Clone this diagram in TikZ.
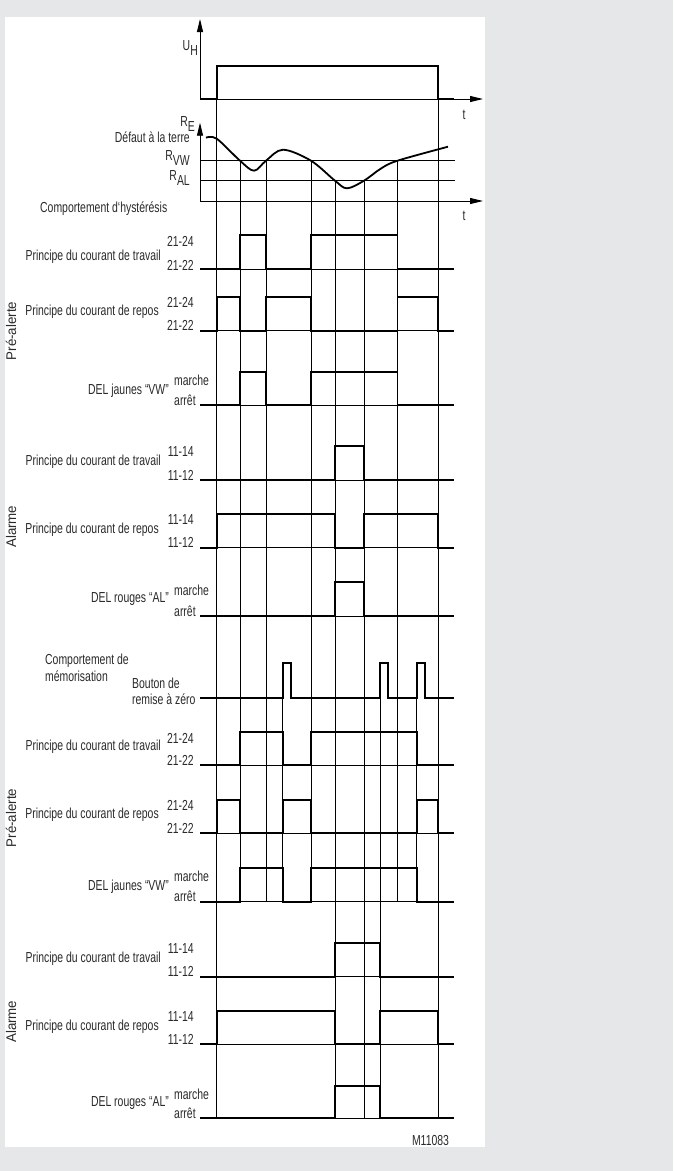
\documentclass[tikz,border=0pt]{standalone}
\usepackage{fontspec}
\setmainfont{Liberation Sans}[FakeStretch=0.72]
\newfontfamily\sidefont{Liberation Sans}[FakeStretch=0.95]
\usetikzlibrary{arrows.meta}
\definecolor{panelgrey}{HTML}{E6E7E9}
\definecolor{inkgrey}{HTML}{2A2A2A}
\tikzset{
  sig/.style={line width=1.8pt, line join=miter},
  grid/.style={line width=0.75pt},
  axis/.style={line width=0.9pt, -{Triangle[length=13pt,width=6pt]}},
  lbl/.style={inner sep=0pt, text=inkgrey, font=\fontsize{14.5}{16.5}\selectfont},
  lvl/.style={lbl, anchor=east},
  side/.style={inner sep=0pt, text=inkgrey, rotate=90, font=\sidefont\fontsize{14}{16}\selectfont},
}
\newcommand{\lowsub}[1]{\raisebox{-5pt}{#1}}
\begin{document}
\begin{tikzpicture}[x=1pt,y=-1pt]
\useasboundingbox[fill=panelgrey] (0,0) rectangle (673,1171);
\fill[white] (5,17) rectangle (485,1147);
% switching times
\def\ta{216.7}\def\tb{240}\def\tc{266}\def\td{311}
\def\te{335}\def\tf{364}\def\tg{397.5}\def\th{438}
\def\ra{282.7}\def\rb{380}\def\rc{416.7}
% vertical time marks
\draw[grid] (\ta,99) -- (\ta,1118.3);
\draw[grid] (\th,99) -- (\th,1118.3);
\draw[grid] (\tb,160.7) -- (\tb,901.7);
\draw[grid] (\tc,160.7) -- (\tc,901.7);
\draw[grid] (\td,160.7) -- (\td,901.7);
\draw[grid] (\tg,160.7) -- (\tg,901.7);
\draw[grid] (\te,180.7) -- (\te,1118.3);
\draw[grid] (\tf,180.7) -- (\tf,1118.3);
\draw[grid] (\ra,663.3) -- (\ra,901.7);
\draw[grid] (\rc,663.3) -- (\rc,901.7);
\draw[grid] (\rb,663.3) -- (\rb,1118.3);

% supply voltage
\coordinate (uh0) at (200,99);
\draw[axis] (uh0) -- (200,19);
\draw[axis] (uh0) -- (483,99);
\draw[sig] (uh0) -| (\ta,66) -| (\th,99) -- (454,99);
\node[lbl, anchor=east] (uh) at (198,48) {U\lowsub{H}};
\node[lbl] (t1) at (464,115) {t};

% earth fault resistance
\coordinate (re0) at (200,201);
\draw[axis] (re0) -- (200,122.7);
\draw[axis] (re0) -- (483,201);
\draw[grid] (200,160.7) -- (455,160.7);
\draw[grid] (200,180.7) -- (455,180.7);
\draw[sig] plot[smooth, tension=0.55] coordinates {(206,137.7) (216.7,138.7) (240,160.7) (254,170.7) (266,160.7) (283,149.7) (311,160.7) (335,180.7) (347,188.3) (364,180.7) (381,168.5) (397.5,160.7) (448,146.7)};
\node[lbl, anchor=east] (re) at (195,124) {R\lowsub{E}};
\node[lbl, anchor=east] (fault) at (190,137.5) {Défaut à la terre};
\node[lbl, anchor=east] (rvw) at (190,158) {R\lowsub{VW}};
\node[lbl, anchor=east] (ral) at (190,178) {R\lowsub{AL}};
\node[lbl] (t2) at (464,216) {t};
\node[lbl, anchor=west] (hyst) at (40,209) {Comportement d‘hystérésis};

% hysteresis: pre-alarm
\draw[grid] (200,269.3) -- (454,269.3);
\draw[sig] (200,269.3) -| (\tb,235) -| (\tc,269.3) -| (\td,235) -| (\tg,269.3) -- (454,269.3);
\node[lvl] (hpw) at (161,256.7) {Principe du courant de travail};
\node[lvl] (hpw1) at (194,241.5) {21-24};
\node[lvl] (hpw2) at (194,265) {21-22};

\draw[grid] (200,330.7) -- (454,330.7);
\draw[sig] (200,330.7) -| (\ta,296.7) -| (\tb,330.7) -| (\tc,296.7) -| (\td,330.7) -| (\tg,296.7) -| (\th,330.7) -- (454,330.7);
\node[lvl] (hpr) at (159,312) {Principe du courant de repos};
\node[lvl] (hpr1) at (194,302) {21-24};
\node[lvl] (hpr2) at (194,325.7) {21-22};

\draw[grid] (200,405) -- (454,405);
\draw[sig] (200,405) -| (\tb,371.7) -| (\tc,405) -| (\td,371.7) -| (\tg,405) -- (454,405);
\node[lvl] (hvw) at (169,390.7) {DEL jaunes “VW”};
\node[lbl, anchor=west] (hvw1) at (174,380) {marche};
\node[lbl, anchor=west] (hvw2) at (174,400) {arrêt};

\node[side] (hpre) at (11,331) {Pré-alerte};

% hysteresis: alarm
\draw[grid] (200,480) -- (454,480);
\draw[sig] (200,480) -| (\te,446) -| (\tf,480) -- (454,480);
\node[lvl] (haw) at (161,461.7) {Principe du courant de travail};
\node[lvl] (haw1) at (194,452) {11-14};
\node[lvl] (haw2) at (194,475) {11-12};

\draw[grid] (200,547.7) -- (454,547.7);
\draw[sig] (200,547.7) -| (\ta,514.3) -| (\te,547.7) -| (\tf,514.3) -| (\th,547.7) -- (454,547.7);
\node[lvl] (har) at (159,530) {Principe du courant de repos};
\node[lvl] (har1) at (194,519.5) {11-14};
\node[lvl] (har2) at (194,542.7) {11-12};

\draw[grid] (200,616) -- (454,616);
\draw[sig] (200,616) -| (\te,582) -| (\tf,616) -- (454,616);
\node[lvl] (hal) at (169,599) {DEL rouges “AL”};
\node[lbl, anchor=west] (hal1) at (174,590) {marche};
\node[lbl, anchor=west] (hal2) at (174,611) {arrêt};

\node[side] (halm) at (11,526.7) {Alarme};

% latching behaviour
\node[lbl, anchor=west, align=left] (mem) at (45,668) {Comportement de\\mémorisation};
\draw[sig] (200,697.7) -| (\ra,663.3) -| (\ra+8,697.7) -| (\rb,663.3) -| (\rb+8,697.7) -| (\rc,663.3) -| (\rc+8,697.7) -- (454,697.7);
\node[lbl, anchor=west, align=left] (reset) at (132,691.5) {Bouton de\\remise à zéro};

% latching: pre-alarm
\draw[grid] (200,765.3) -- (454,765.3);
\draw[sig] (200,765.3) -| (\tb,732.3) -| (\ra,765.3) -| (\td,732.3) -| (\rc,765.3) -- (454,765.3);
\node[lvl] (mpw) at (161,746.7) {Principe du courant de travail};
\node[lvl] (mpw1) at (194,738) {21-24};
\node[lvl] (mpw2) at (194,760.3) {21-22};

\draw[grid] (200,833.3) -- (454,833.3);
\draw[sig] (200,833.3) -| (\ta,800) -| (\tb,833.3) -| (\ra,800) -| (\td,833.3) -| (\rc,800) -| (\th,833.3) -- (454,833.3);
\node[lvl] (mpr) at (159,815) {Principe du courant de repos};
\node[lvl] (mpr1) at (194,805.5) {21-24};
\node[lvl] (mpr2) at (194,828.3) {21-22};

\draw[grid] (200,901.7) -- (454,901.7);
\draw[sig] (200,901.7) -| (\tb,867.7) -| (\ra,901.7) -| (\td,867.7) -| (\rc,901.7) -- (454,901.7);
\node[lvl] (mvw) at (169,886.7) {DEL jaunes “VW”};
\node[lbl, anchor=west] (mvw1) at (174,876) {marche};
\node[lbl, anchor=west] (mvw2) at (174,896.7) {arrêt};

\node[side] (mpre) at (11,818) {Pré-alerte};

% latching: alarm
\draw[grid] (200,976.7) -- (454,976.7);
\draw[sig] (200,976.7) -| (\te,942.7) -| (\rb,976.7) -- (454,976.7);
\node[lvl] (maw) at (161,958.3) {Principe du courant de travail};
\node[lvl] (maw1) at (194,948.5) {11-14};
\node[lvl] (maw2) at (194,971.7) {11-12};

\draw[grid] (200,1044) -- (454,1044);
\draw[sig] (200,1044) -| (\ta,1010.7) -| (\te,1044) -| (\rb,1010.7) -| (\th,1044) -- (454,1044);
\node[lvl] (mar) at (159,1026.7) {Principe du courant de repos};
\node[lvl] (mar1) at (194,1016) {11-14};
\node[lvl] (mar2) at (194,1039) {11-12};

\draw[grid] (200,1118.3) -- (454,1118.3);
\draw[sig] (200,1118.3) -| (\te,1085.7) -| (\rb,1118.3) -- (454,1118.3);
\node[lvl] (mal) at (169,1103) {DEL rouges “AL”};
\node[lbl, anchor=west] (mal1) at (174,1094) {marche};
\node[lbl, anchor=west] (mal2) at (174,1113.3) {arrêt};

\node[side] (malm) at (11,1021.7) {Alarme};

\node[lbl] (code) at (430.5,1140.5) {M11083};
\end{tikzpicture}
\end{document}
